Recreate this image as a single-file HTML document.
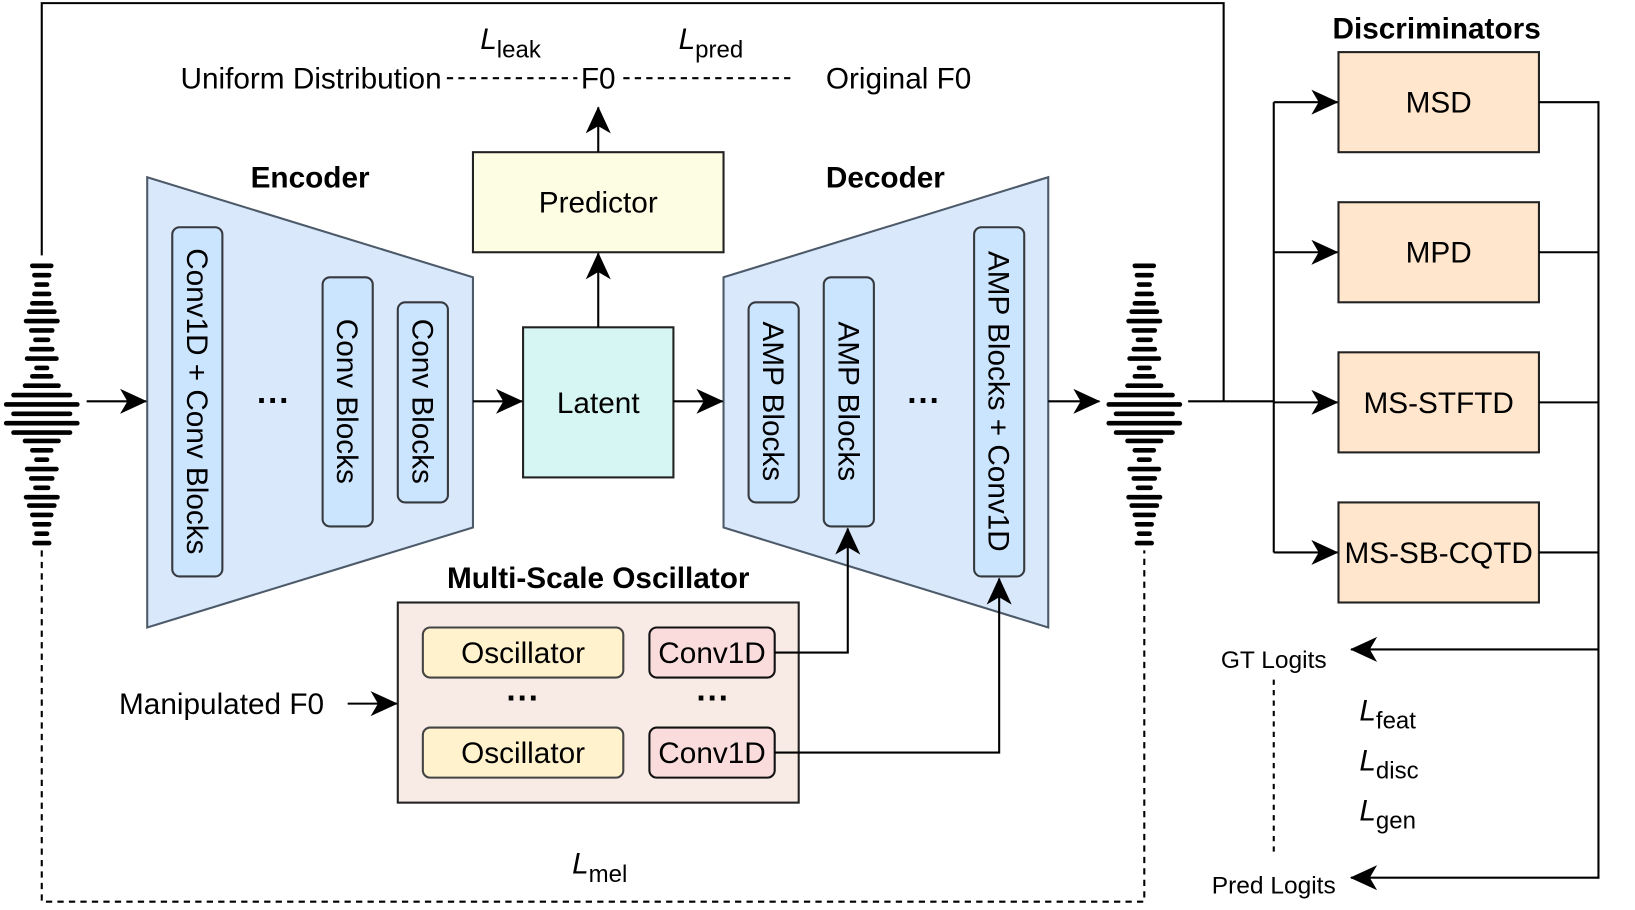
<!DOCTYPE html>
<html><head><meta charset="utf-8"><style>
html,body{margin:0;padding:0;background:#fff;}
svg{display:block;}
text{font-family:"Liberation Sans",Arial,sans-serif;fill:#000;}
</style></head><body>
<svg width="1635" height="910" viewBox="0 0 1566 873" preserveAspectRatio="none" xmlns="http://www.w3.org/2000/svg">
<defs>
<marker id="arb" markerWidth="26" markerHeight="24" refX="25" refY="12" orient="auto" markerUnits="userSpaceOnUse" viewBox="0 0 26 24">
<path d="M0,0 L26,12 L0,24 L7,12 Z" fill="#000"/>
</marker>
<g id="wave" stroke="#000" stroke-width="4.5" stroke-linecap="round">
<line x1="-9" x2="9" y1="-133" y2="-133"/>
<line x1="-7" x2="7" y1="-124" y2="-124"/>
<line x1="-5" x2="5" y1="-115" y2="-115"/>
<line x1="-7" x2="7" y1="-106" y2="-106"/>
<line x1="-9" x2="9" y1="-97" y2="-97"/>
<line x1="-12" x2="12" y1="-89" y2="-89"/>
<line x1="-15" x2="15" y1="-80" y2="-80"/>
<line x1="-10" x2="10" y1="-71" y2="-71"/>
<line x1="-6" x2="6" y1="-62" y2="-62"/>
<line x1="-10" x2="10" y1="-53" y2="-53"/>
<line x1="-14" x2="14" y1="-44" y2="-44"/>
<line x1="-5" x2="5" y1="-35" y2="-35"/>
<line x1="-9" x2="9" y1="-27" y2="-27"/>
<line x1="-16" x2="16" y1="-18" y2="-18"/>
<line x1="-27" x2="27" y1="-9" y2="-9"/>
<line x1="-34" x2="34" y1="0" y2="0"/>
<line x1="-27" x2="27" y1="9" y2="9"/>
<line x1="-34" x2="34" y1="18" y2="18"/>
<line x1="-27" x2="27" y1="27" y2="27"/>
<line x1="-16" x2="16" y1="35" y2="35"/>
<line x1="-9" x2="9" y1="44" y2="44"/>
<line x1="-5" x2="5" y1="53" y2="53"/>
<line x1="-14" x2="14" y1="62" y2="62"/>
<line x1="-10" x2="10" y1="71" y2="71"/>
<line x1="-6" x2="6" y1="80" y2="80"/>
<line x1="-15" x2="15" y1="89" y2="89"/>
<line x1="-12" x2="12" y1="97" y2="97"/>
<line x1="-9" x2="9" y1="106" y2="106"/>
<line x1="-7" x2="7" y1="115" y2="115"/>
<line x1="-5" x2="5" y1="124" y2="124"/>
<line x1="-7" x2="7" y1="133" y2="133"/>
</g>
</defs>

<polyline points="40,245 40,3 1172,3 1172,385" fill="none" stroke="#000" stroke-width="2"/>
<polyline points="40,528 40,865 1096,865 1096,528" fill="none" stroke="#000" stroke-width="2" stroke-dasharray="6,5"/>

<use href="#wave" x="40" y="388"/>
<use href="#wave" x="1096" y="388"/>

<!-- encoder -->
<polygon points="141,170 453,266 453,506 141,602" fill="#dae8fc" stroke="#4d5a6a" stroke-width="2"/>
<text x="297" y="180" font-size="28.5" font-weight="bold" text-anchor="middle">Encoder</text>
<rect x="165" y="218" width="48" height="335" rx="7" fill="#cce5ff" stroke="#36393d" stroke-width="2"/>
<rect x="309" y="266" width="48" height="239" rx="7" fill="#cce5ff" stroke="#36393d" stroke-width="2"/>
<rect x="381" y="290" width="48" height="192" rx="7" fill="#cce5ff" stroke="#36393d" stroke-width="2"/>
<text transform="translate(179,385) rotate(90)" font-size="28.5" text-anchor="middle">Conv1D + Conv Blocks</text>
<text transform="translate(323,385) rotate(90)" font-size="28.5" text-anchor="middle">Conv Blocks</text>
<text transform="translate(395,385) rotate(90)" font-size="28.5" text-anchor="middle">Conv Blocks</text>
<text x="262" y="395" font-size="32" font-weight="bold" text-anchor="middle">···</text>

<!-- decoder -->
<polygon points="693,266 1004,170 1004,602 693,506" fill="#dae8fc" stroke="#4d5a6a" stroke-width="2"/>
<text x="848" y="180" font-size="28.5" font-weight="bold" text-anchor="middle">Decoder</text>
<rect x="717" y="290" width="48" height="192" rx="7" fill="#cce5ff" stroke="#36393d" stroke-width="2"/>
<rect x="789" y="266" width="48" height="239" rx="7" fill="#cce5ff" stroke="#36393d" stroke-width="2"/>
<rect x="933" y="218" width="48" height="335" rx="7" fill="#cce5ff" stroke="#36393d" stroke-width="2"/>
<text transform="translate(731,385) rotate(90)" font-size="28.5" text-anchor="middle">AMP Blocks</text>
<text transform="translate(803,385) rotate(90)" font-size="28.5" text-anchor="middle">AMP Blocks</text>
<text transform="translate(947,385) rotate(90)" font-size="28.5" text-anchor="middle">AMP Blocks + Conv1D</text>
<text x="885" y="395" font-size="32" font-weight="bold" text-anchor="middle">···</text>

<rect x="501" y="314" width="144" height="144" fill="#d6f6f4" stroke="#222" stroke-width="2"/>
<text x="573" y="396" font-size="28.5" text-anchor="middle">Latent</text>
<rect x="453" y="146" width="240" height="96" fill="#fdfde3" stroke="#222" stroke-width="2"/>
<text x="573" y="204" font-size="28.5" text-anchor="middle">Predictor</text>

<line x1="83" y1="385" x2="140" y2="385" stroke="#000" stroke-width="2" marker-end="url(#arb)"/>
<line x1="453" y1="385" x2="500" y2="385" stroke="#000" stroke-width="2" marker-end="url(#arb)"/>
<line x1="645" y1="385" x2="692" y2="385" stroke="#000" stroke-width="2" marker-end="url(#arb)"/>
<line x1="1004" y1="385" x2="1053" y2="385" stroke="#000" stroke-width="2" marker-end="url(#arb)"/>
<line x1="573" y1="314" x2="573" y2="243" stroke="#000" stroke-width="2" marker-end="url(#arb)"/>
<line x1="573" y1="146" x2="573" y2="103" stroke="#000" stroke-width="2" marker-end="url(#arb)"/>

<text x="423" y="85" font-size="28.5" text-anchor="end">Uniform Distribution</text>
<line x1="428" y1="75" x2="553" y2="75" stroke="#000" stroke-width="2" stroke-dasharray="6,5"/>
<text x="573" y="85" font-size="28.5" text-anchor="middle">F0</text>
<line x1="597" y1="75" x2="757" y2="75" stroke="#000" stroke-width="2" stroke-dasharray="6,5"/>
<text x="791" y="85" font-size="28.5">Original F0</text>
<text x="460" y="47" font-size="28.5" font-style="italic">L<tspan font-style="normal" font-size="23" dy="8">leak</tspan></text>
<text x="650" y="47" font-size="28.5" font-style="italic">L<tspan font-style="normal" font-size="23" dy="8">pred</tspan></text>
<text x="548" y="838" font-size="28.5" font-style="italic">L<tspan font-style="normal" font-size="23" dy="8">mel</tspan></text>

<text x="573" y="564" font-size="28.5" font-weight="bold" text-anchor="middle">Multi-Scale Oscillator</text>
<rect x="381" y="578" width="384" height="192" fill="#f8ebe6" stroke="#222" stroke-width="2"/>
<rect x="405" y="602" width="192" height="48" rx="7" fill="#fff2cc" stroke="#444" stroke-width="2"/>
<rect x="405" y="698" width="192" height="48" rx="7" fill="#fff2cc" stroke="#444" stroke-width="2"/>
<rect x="622" y="602" width="120" height="48" rx="7" fill="#fadcdc" stroke="#111" stroke-width="2"/>
<rect x="622" y="698" width="120" height="48" rx="7" fill="#fadcdc" stroke="#111" stroke-width="2"/>
<text x="501" y="636" font-size="28.5" text-anchor="middle">Oscillator</text>
<text x="501" y="732" font-size="28.5" text-anchor="middle">Oscillator</text>
<text x="682" y="636" font-size="28.5" text-anchor="middle">Conv1D</text>
<text x="682" y="732" font-size="28.5" text-anchor="middle">Conv1D</text>
<text x="501" y="680" font-size="32" font-weight="bold" text-anchor="middle">···</text>
<text x="683" y="680" font-size="32" font-weight="bold" text-anchor="middle">···</text>
<text x="114" y="685" font-size="28.5">Manipulated F0</text>
<line x1="333" y1="675" x2="380" y2="675" stroke="#000" stroke-width="2" marker-end="url(#arb)"/>
<polyline points="742,626 812,626 812,507" fill="none" stroke="#000" stroke-width="2" marker-end="url(#arb)"/>
<polyline points="742,722 957,722 957,555" fill="none" stroke="#000" stroke-width="2" marker-end="url(#arb)"/>

<text x="1376" y="37" font-size="28.5" font-weight="bold" text-anchor="middle">Discriminators</text>
<line x1="1138" y1="385" x2="1220" y2="385" stroke="#000" stroke-width="2"/>
<polyline points="1220,98 1220,530" fill="none" stroke="#000" stroke-width="2"/>
<line x1="1220" y1="98" x2="1281" y2="98" stroke="#000" stroke-width="2" marker-end="url(#arb)"/>
<line x1="1220" y1="242" x2="1281" y2="242" stroke="#000" stroke-width="2" marker-end="url(#arb)"/>
<line x1="1220" y1="386" x2="1281" y2="386" stroke="#000" stroke-width="2" marker-end="url(#arb)"/>
<line x1="1220" y1="530" x2="1281" y2="530" stroke="#000" stroke-width="2" marker-end="url(#arb)"/>
<g fill="#ffe6cc" stroke="#222" stroke-width="2">
<rect x="1282" y="50" width="192" height="96"/>
<rect x="1282" y="194" width="192" height="96"/>
<rect x="1282" y="338" width="192" height="96"/>
<rect x="1282" y="482" width="192" height="96"/>
</g>
<text x="1378" y="108" font-size="28.5" text-anchor="middle">MSD</text>
<text x="1378" y="252" font-size="28.5" text-anchor="middle">MPD</text>
<text x="1378" y="396" font-size="28.5" text-anchor="middle">MS-STFTD</text>
<text x="1378" y="540" font-size="28.5" text-anchor="middle">MS-SB-CQTD</text>
<g stroke="#000" stroke-width="2" fill="none">
<line x1="1474" y1="98" x2="1531" y2="98"/>
<line x1="1474" y1="242" x2="1531" y2="242"/>
<line x1="1474" y1="386" x2="1531" y2="386"/>
<line x1="1474" y1="530" x2="1531" y2="530"/>
<line x1="1531" y1="97" x2="1531" y2="843"/>
</g>
<line x1="1531" y1="623" x2="1294" y2="623" stroke="#000" stroke-width="2" marker-end="url(#arb)"/>
<line x1="1531" y1="842" x2="1294" y2="842" stroke="#000" stroke-width="2" marker-end="url(#arb)"/>
<text x="1220" y="641" font-size="23.5" text-anchor="middle">GT Logits</text>
<text x="1220" y="857" font-size="23.5" text-anchor="middle">Pred Logits</text>
<line x1="1220" y1="652" x2="1220" y2="818" stroke="#000" stroke-width="2" stroke-dasharray="5,5"/>
<text x="1302" y="691" font-size="28.5" font-style="italic">L<tspan font-style="normal" font-size="23" dy="8">feat</tspan></text>
<text x="1302" y="739" font-size="28.5" font-style="italic">L<tspan font-style="normal" font-size="23" dy="8">disc</tspan></text>
<text x="1302" y="787" font-size="28.5" font-style="italic">L<tspan font-style="normal" font-size="23" dy="8">gen</tspan></text>
</svg>
</body></html>
